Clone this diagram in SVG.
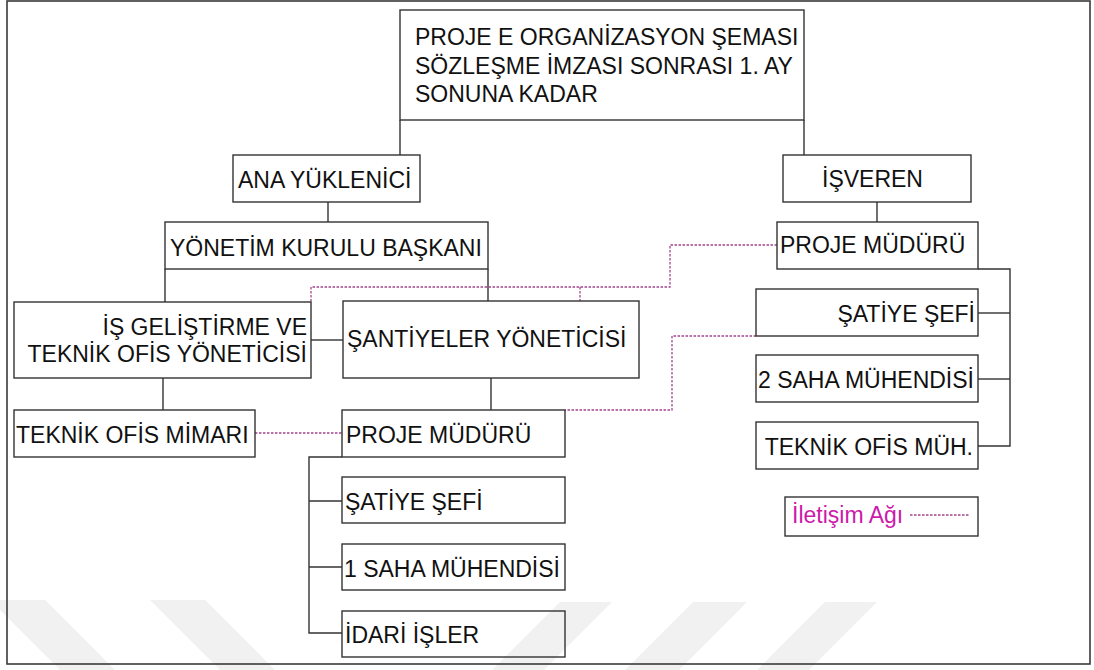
<svg xmlns="http://www.w3.org/2000/svg" width="1094" height="670" viewBox="0 0 1094 670">
  <style>
    .box { fill: none; stroke: #333; stroke-width: 1.4; }
    .lbl { font-family: "Liberation Sans", Arial, sans-serif; font-size: 23px; fill: #111; }
    .end { text-anchor: end; }
    .link { fill: none; stroke: #333; stroke-width: 1.4; }
    .comm { fill: none; stroke: #a4468f; stroke-width: 1.3; stroke-dasharray: 2.5 1.5; }
    .mark { fill: #f1f1f1; }
  </style>

  <rect x="0" y="0" width="1094" height="670" fill="#fff"/>

  <!-- faint background stripes -->
  <g id="backdrop">
    <polygon class="mark" points="-10,600 45,600 115,670 60,670"/>
    <polygon class="mark" points="150,600 205,600 275,670 220,670"/>
    <polygon class="mark" points="560,602 612,602 544,670 492,670"/>
    <polygon class="mark" points="693,602 747,602 679,670 625,670"/>
    <polygon class="mark" points="825,602 877,602 809,670 757,670"/>
  </g>

  <!-- outer frame -->
  <rect x="7" y="1" width="1083" height="663" fill="none" stroke="#3a3a3a" stroke-width="1.6"/>

  <!-- connectors -->
  <g id="connectors">
    <!-- hierarchy lines -->
    <line class="link" x1="400" y1="120" x2="400" y2="155"/>
    <line class="link" x1="804" y1="120" x2="804" y2="155"/>
    <line class="link" x1="328" y1="202" x2="328" y2="222"/>
    <line class="link" x1="165" y1="269" x2="165" y2="302"/>
    <line class="link" x1="488" y1="269" x2="488" y2="301"/>
    <line class="link" x1="311" y1="340" x2="343" y2="340"/>
    <line class="link" x1="163" y1="378" x2="163" y2="410"/>
    <line class="link" x1="491" y1="378" x2="491" y2="410"/>
    <polyline class="link" points="342,457 309,457 309,633 342,633"/>
    <line class="link" x1="309" y1="501" x2="342" y2="501"/>
    <line class="link" x1="309" y1="567" x2="342" y2="567"/>
    <line class="link" x1="877" y1="202" x2="877" y2="222"/>
    <polyline class="link" points="978,269 1010,269 1010,446 978,446"/>
    <line class="link" x1="978" y1="313" x2="1010" y2="313"/>
    <line class="link" x1="978" y1="379" x2="1010" y2="379"/>

    <!-- communication network -->
    <polyline class="comm" points="777,245 670,245 670,287 311,287 311,302"/>
    <line class="comm" x1="580" y1="287" x2="580" y2="301"/>
    <polyline class="comm" points="756,336 672,336 672,410 565,410"/>
    <line class="comm" x1="255" y1="433" x2="342" y2="433"/>
  </g>

  <g id="title">
    <rect class="box" x="400" y="10" width="404" height="110"/>
    <text class="lbl" x="415" y="45">PROJE E ORGANİZASYON ŞEMASI</text>
    <text class="lbl" x="415" y="74">SÖZLEŞME İMZASI SONRASI 1. AY</text>
    <text class="lbl" x="415" y="102">SONUNA KADAR</text>
  </g>

  <g id="ana-yuklenici">
    <rect class="box" x="233" y="155" width="187" height="47"/>
    <text class="lbl" x="238" y="188">ANA YÜKLENİCİ</text>
  </g>

  <g id="yonetim-kurulu">
    <rect class="box" x="165" y="222" width="323" height="47"/>
    <text class="lbl" x="170" y="256">YÖNETİM KURULU BAŞKANI</text>
  </g>

  <g id="is-gelistirme">
    <rect class="box" x="14" y="302" width="297" height="76"/>
    <text class="lbl end" x="307" y="335">İŞ GELİŞTİRME VE</text>
    <text class="lbl end" x="307" y="362">TEKNİK OFİS YÖNETİCİSİ</text>
  </g>

  <g id="santiyeler">
    <rect class="box" x="343" y="301" width="296" height="77"/>
    <text class="lbl" x="347" y="347">ŞANTİYELER YÖNETİCİSİ</text>
  </g>

  <g id="teknik-ofis-mimari">
    <rect class="box" x="14" y="410" width="241" height="47"/>
    <text class="lbl" x="16" y="443">TEKNİK OFİS MİMARI</text>
  </g>

  <g id="proje-muduru-yuklenici">
    <rect class="box" x="342" y="410" width="223" height="47"/>
    <text class="lbl" x="346" y="443">PROJE MÜDÜRÜ</text>
  </g>

  <g id="santiye-sefi-yuklenici">
    <rect class="box" x="342" y="477" width="223" height="46"/>
    <text class="lbl" x="345" y="510">ŞATİYE ŞEFİ</text>
  </g>

  <g id="saha-muhendisi-1">
    <rect class="box" x="342" y="544" width="223" height="46"/>
    <text class="lbl" x="344" y="577">1 SAHA MÜHENDİSİ</text>
  </g>

  <g id="idari-isler">
    <rect class="box" x="342" y="611" width="223" height="46"/>
    <text class="lbl" x="345" y="643">İDARİ İŞLER</text>
  </g>

  <g id="isveren">
    <rect class="box" x="783" y="155" width="188" height="47"/>
    <text class="lbl" x="822" y="187">İŞVEREN</text>
  </g>

  <g id="proje-muduru-isveren">
    <rect class="box" x="777" y="222" width="201" height="47"/>
    <text class="lbl" x="780" y="253">PROJE MÜDÜRÜ</text>
  </g>

  <g id="santiye-sefi-isveren">
    <rect class="box" x="756" y="289" width="222" height="47"/>
    <text class="lbl end" x="975" y="322">ŞATİYE ŞEFİ</text>
  </g>

  <g id="saha-muhendisi-2">
    <rect class="box" x="756" y="355" width="222" height="47"/>
    <text class="lbl" x="758" y="388">2 SAHA MÜHENDİSİ</text>
  </g>

  <g id="teknik-ofis-muh">
    <rect class="box" x="756" y="422" width="222" height="47"/>
    <text class="lbl end" x="973" y="455">TEKNİK OFİS MÜH.</text>
  </g>

  <g id="legend">
    <rect class="box" x="785" y="497" width="193" height="39"/>
    <text class="lbl" x="792" y="523" style="fill:#cc1aaa">İletişim Ağı</text>
    <line class="comm" x1="910" y1="515" x2="970" y2="515"/>
  </g>
</svg>
